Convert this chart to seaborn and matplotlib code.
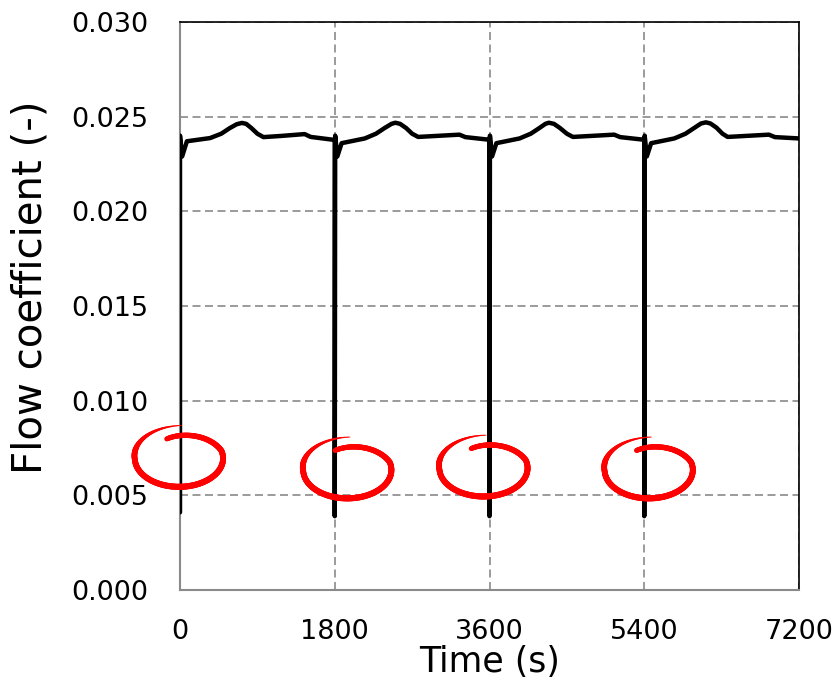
import numpy as np
import pandas as pd
import matplotlib
matplotlib.use("Agg")
import matplotlib.pyplot as plt
import seaborn as sns
from matplotlib.collections import LineCollection

# ---- data ----
time_s = [0, 0, 25, 80, 350, 480, 580, 660, 720, 770, 830, 900, 970, 1170, 1450, 1520, 1800,
          1800, 1805, 1830, 1880, 2150, 2280, 2380, 2460, 2505, 2560, 2630, 2700, 2770, 2970, 3250, 3320, 3600,
          3600, 3605, 3630, 3680, 3950, 4080, 4180, 4250, 4290, 4350, 4420, 4500, 4570, 4770, 5050, 5120, 5400,
          5400, 5405, 5430, 5480, 5750, 5880, 5980, 6060, 6117, 6170, 6240, 6310, 6370, 6570, 6850, 6920, 7200]
flow_coef = [0.0041, 0.0240, 0.0229, 0.0237, 0.02387, 0.0241, 0.0244, 0.02460, 0.02467, 0.02462, 0.02440, 0.02410, 0.02392, 0.02398, 0.02408, 0.02393, 0.02377,
             0.0039, 0.0240, 0.0229, 0.0236, 0.02385, 0.0241, 0.0244, 0.02462, 0.02468, 0.02462, 0.02440, 0.02410, 0.02393, 0.02398, 0.02405, 0.02392, 0.02378,
             0.0039, 0.0240, 0.0229, 0.0236, 0.02385, 0.0241, 0.0244, 0.02462, 0.02468, 0.02462, 0.02440, 0.02410, 0.02393, 0.02398, 0.02405, 0.02392, 0.02378,
             0.0039, 0.0240, 0.0229, 0.0236, 0.02385, 0.0241, 0.0244, 0.02464, 0.02470, 0.02464, 0.02442, 0.02410, 0.02393, 0.02398, 0.02405, 0.02392, 0.02385]
x_ticks = [0, 1800, 3600, 5400, 7200]
y_ticks = [0.000, 0.005, 0.010, 0.015, 0.020, 0.025, 0.030]
# red hand-drawn markers around the minima (centre time, centre value)
mark_t = [-12, 1946, 3530, 5452]
mark_v = [0.00695, 0.00634, 0.00644, 0.00634]

df = pd.DataFrame({"t": time_s, "f": flow_coef})

sns.set_theme(style="white")
plt.rcParams['font.family'] = ['DejaVu Sans']

fig = plt.figure(figsize=(8.38, 6.87), dpi=100)
ax = fig.add_axes([180/838, 1 - 590/687, (799-180)/838, (590-22)/687])

sns.lineplot(data=df, x="t", y="f", sort=False, estimator=None,
             color="black", linewidth=3.2, ax=ax, zorder=3)

ax.set_xlim(0, 7200)
ax.set_ylim(0, 0.030)
ax.set_xticks(x_ticks)
ax.set_yticks(y_ticks)
ax.set_xticklabels([str(v) for v in x_ticks])
ax.set_yticklabels([f"{v:.3f}" for v in y_ticks])

gcol = "#8a8a8a"
ax.grid(True, color=gcol, linestyle=(0, (4.8, 2.7)), linewidth=1.2, zorder=1)
ax.set_axisbelow(True)

for s in ["left", "bottom"]:
    ax.spines[s].set_color(gcol)
    ax.spines[s].set_linewidth(1.5)
for s in ["top", "right"]:
    ax.spines[s].set_color("black")
    ax.spines[s].set_linewidth(1.2)

ax.tick_params(axis="both", direction="out", length=7, width=1.2, color=gcol,
               labelsize=19.5, labelcolor="black")
ax.tick_params(axis="y", pad=16)
ax.tick_params(axis="x", pad=14)

ax.set_xlabel("Time (s)", fontsize=25, labelpad=0, color="black")
ax.set_ylabel("Flow coefficient (-)", fontsize=29, color="black")
ax.yaxis.set_label_coords(-0.21, 0.533)

# hand-drawn red loops
a = 513.0
b = 0.00150
for ct, cv in zip(mark_t, mark_v):
    th = np.linspace(np.deg2rad(112), np.deg2rad(112 - 385), 260)
    u = np.linspace(0, 1, th.size)
    r = 0.74 + 0.26 * np.clip(u / 0.25, 0, 1) + 0.16 * np.clip((u - 0.75) / 0.25, 0, 1)
    xs = ct + a * r * np.cos(th)
    ys = cv + b * r * np.sin(th)
    pts = np.column_stack([xs, ys]).reshape(-1, 1, 2)
    segs = np.concatenate([pts[:-1], pts[1:]], axis=1)
    um = 0.5 * (u[:-1] + u[1:])
    w = 3.6 + 0.8 * np.sin(np.pi * np.clip(um, 0, 1))
    w = np.where(um > 0.8, w * (1 - (um - 0.8) / 0.2 * 0.85), w)
    lc = LineCollection(segs, colors="#ff0000", linewidths=w, capstyle="round",
                        joinstyle="round", zorder=4, clip_on=False, antialiased=True)
    ax.add_collection(lc)

fig.savefig("out.png", dpi=100)
